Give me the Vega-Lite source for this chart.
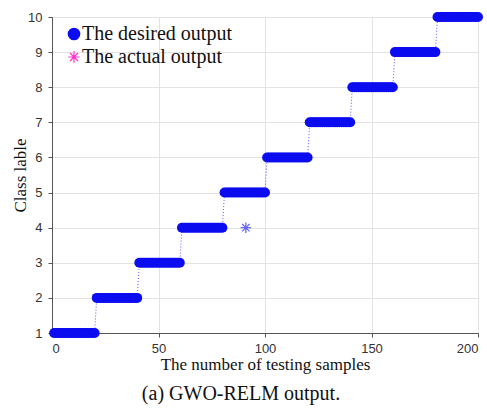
{
  "$schema": "https://vega.github.io/schema/vega-lite/v6.json",
  "autosize": "none",
  "width": 426,
  "height": 316,
  "padding": {"left": 52, "top": 17, "right": 9, "bottom": 82},
  "background": "white",
  "config": {
    "view": {"stroke": "#555555", "strokeWidth": 1},
    "axis": {"labelFont": "Liberation Sans", "labelFontSize": 13, "labelColor": "#333333", "titleFont": "Liberation Serif", "titleFontWeight": "normal", "titleFontSize": 17, "titleColor": "#111111", "gridColor": "#e3e3e3", "domainColor": "#555555", "tickColor": "#555555", "tickSize": 4, "labelOverlap": false}
  },
  "title": {"text": "(a) GWO-RELM output.", "orient": "bottom", "font": "Liberation Serif", "fontSize": 20, "fontWeight": "normal", "color": "#111111", "anchor": "middle", "offset": 12, "dx": -24},
  "data": {"values": [
    {"i":1,"d":1,"a":1},{"i":2,"d":1,"a":1},{"i":3,"d":1,"a":1},{"i":4,"d":1,"a":1},{"i":5,"d":1,"a":1},{"i":6,"d":1,"a":1},{"i":7,"d":1,"a":1},{"i":8,"d":1,"a":1},{"i":9,"d":1,"a":1},{"i":10,"d":1,"a":1},
    {"i":11,"d":1,"a":1},{"i":12,"d":1,"a":1},{"i":13,"d":1,"a":1},{"i":14,"d":1,"a":1},{"i":15,"d":1,"a":1},{"i":16,"d":1,"a":1},{"i":17,"d":1,"a":1},{"i":18,"d":1,"a":1},{"i":19,"d":1,"a":1},{"i":20,"d":1,"a":1},
    {"i":21,"d":2,"a":2},{"i":22,"d":2,"a":2},{"i":23,"d":2,"a":2},{"i":24,"d":2,"a":2},{"i":25,"d":2,"a":2},{"i":26,"d":2,"a":2},{"i":27,"d":2,"a":2},{"i":28,"d":2,"a":2},{"i":29,"d":2,"a":2},{"i":30,"d":2,"a":2},
    {"i":31,"d":2,"a":2},{"i":32,"d":2,"a":2},{"i":33,"d":2,"a":2},{"i":34,"d":2,"a":2},{"i":35,"d":2,"a":2},{"i":36,"d":2,"a":2},{"i":37,"d":2,"a":2},{"i":38,"d":2,"a":2},{"i":39,"d":2,"a":2},{"i":40,"d":2,"a":2},
    {"i":41,"d":3,"a":3},{"i":42,"d":3,"a":3},{"i":43,"d":3,"a":3},{"i":44,"d":3,"a":3},{"i":45,"d":3,"a":3},{"i":46,"d":3,"a":3},{"i":47,"d":3,"a":3},{"i":48,"d":3,"a":3},{"i":49,"d":3,"a":3},{"i":50,"d":3,"a":3},
    {"i":51,"d":3,"a":3},{"i":52,"d":3,"a":3},{"i":53,"d":3,"a":3},{"i":54,"d":3,"a":3},{"i":55,"d":3,"a":3},{"i":56,"d":3,"a":3},{"i":57,"d":3,"a":3},{"i":58,"d":3,"a":3},{"i":59,"d":3,"a":3},{"i":60,"d":3,"a":3},
    {"i":61,"d":4,"a":4},{"i":62,"d":4,"a":4},{"i":63,"d":4,"a":4},{"i":64,"d":4,"a":4},{"i":65,"d":4,"a":4},{"i":66,"d":4,"a":4},{"i":67,"d":4,"a":4},{"i":68,"d":4,"a":4},{"i":69,"d":4,"a":4},{"i":70,"d":4,"a":4},
    {"i":71,"d":4,"a":4},{"i":72,"d":4,"a":4},{"i":73,"d":4,"a":4},{"i":74,"d":4,"a":4},{"i":75,"d":4,"a":4},{"i":76,"d":4,"a":4},{"i":77,"d":4,"a":4},{"i":78,"d":4,"a":4},{"i":79,"d":4,"a":4},{"i":80,"d":4,"a":4},
    {"i":81,"d":5,"a":5},{"i":82,"d":5,"a":5},{"i":83,"d":5,"a":5},{"i":84,"d":5,"a":5},{"i":85,"d":5,"a":5},{"i":86,"d":5,"a":5},{"i":87,"d":5,"a":5},{"i":88,"d":5,"a":5},{"i":89,"d":5,"a":5},{"i":90,"d":5,"a":5},
    {"i":91,"d":5,"a":4},{"i":92,"d":5,"a":5},{"i":93,"d":5,"a":5},{"i":94,"d":5,"a":5},{"i":95,"d":5,"a":5},{"i":96,"d":5,"a":5},{"i":97,"d":5,"a":5},{"i":98,"d":5,"a":5},{"i":99,"d":5,"a":5},{"i":100,"d":5,"a":5},
    {"i":101,"d":6,"a":6},{"i":102,"d":6,"a":6},{"i":103,"d":6,"a":6},{"i":104,"d":6,"a":6},{"i":105,"d":6,"a":6},{"i":106,"d":6,"a":6},{"i":107,"d":6,"a":6},{"i":108,"d":6,"a":6},{"i":109,"d":6,"a":6},{"i":110,"d":6,"a":6},
    {"i":111,"d":6,"a":6},{"i":112,"d":6,"a":6},{"i":113,"d":6,"a":6},{"i":114,"d":6,"a":6},{"i":115,"d":6,"a":6},{"i":116,"d":6,"a":6},{"i":117,"d":6,"a":6},{"i":118,"d":6,"a":6},{"i":119,"d":6,"a":6},{"i":120,"d":6,"a":6},
    {"i":121,"d":7,"a":7},{"i":122,"d":7,"a":7},{"i":123,"d":7,"a":7},{"i":124,"d":7,"a":7},{"i":125,"d":7,"a":7},{"i":126,"d":7,"a":7},{"i":127,"d":7,"a":7},{"i":128,"d":7,"a":7},{"i":129,"d":7,"a":7},{"i":130,"d":7,"a":7},
    {"i":131,"d":7,"a":7},{"i":132,"d":7,"a":7},{"i":133,"d":7,"a":7},{"i":134,"d":7,"a":7},{"i":135,"d":7,"a":7},{"i":136,"d":7,"a":7},{"i":137,"d":7,"a":7},{"i":138,"d":7,"a":7},{"i":139,"d":7,"a":7},{"i":140,"d":7,"a":7},
    {"i":141,"d":8,"a":8},{"i":142,"d":8,"a":8},{"i":143,"d":8,"a":8},{"i":144,"d":8,"a":8},{"i":145,"d":8,"a":8},{"i":146,"d":8,"a":8},{"i":147,"d":8,"a":8},{"i":148,"d":8,"a":8},{"i":149,"d":8,"a":8},{"i":150,"d":8,"a":8},
    {"i":151,"d":8,"a":8},{"i":152,"d":8,"a":8},{"i":153,"d":8,"a":8},{"i":154,"d":8,"a":8},{"i":155,"d":8,"a":8},{"i":156,"d":8,"a":8},{"i":157,"d":8,"a":8},{"i":158,"d":8,"a":8},{"i":159,"d":8,"a":8},{"i":160,"d":8,"a":8},
    {"i":161,"d":9,"a":9},{"i":162,"d":9,"a":9},{"i":163,"d":9,"a":9},{"i":164,"d":9,"a":9},{"i":165,"d":9,"a":9},{"i":166,"d":9,"a":9},{"i":167,"d":9,"a":9},{"i":168,"d":9,"a":9},{"i":169,"d":9,"a":9},{"i":170,"d":9,"a":9},
    {"i":171,"d":9,"a":9},{"i":172,"d":9,"a":9},{"i":173,"d":9,"a":9},{"i":174,"d":9,"a":9},{"i":175,"d":9,"a":9},{"i":176,"d":9,"a":9},{"i":177,"d":9,"a":9},{"i":178,"d":9,"a":9},{"i":179,"d":9,"a":9},{"i":180,"d":9,"a":9},
    {"i":181,"d":10,"a":10},{"i":182,"d":10,"a":10},{"i":183,"d":10,"a":10},{"i":184,"d":10,"a":10},{"i":185,"d":10,"a":10},{"i":186,"d":10,"a":10},{"i":187,"d":10,"a":10},{"i":188,"d":10,"a":10},{"i":189,"d":10,"a":10},{"i":190,"d":10,"a":10},
    {"i":191,"d":10,"a":10},{"i":192,"d":10,"a":10},{"i":193,"d":10,"a":10},{"i":194,"d":10,"a":10},{"i":195,"d":10,"a":10},{"i":196,"d":10,"a":10},{"i":197,"d":10,"a":10},{"i":198,"d":10,"a":10},{"i":199,"d":10,"a":10},{"i":200,"d":10,"a":10}
  ]},
  "encoding": {
    "x": {"field": "i", "type": "quantitative", "scale": {"domain": [0, 200], "nice": false}, "axis": {"values": [0, 50, 100, 150, 200], "title": "The number of testing samples", "titlePadding": 1, "labelPadding": 5}}
  },
  "layer": [
    {
      "transform": [{"filter": "datum.a == datum.d"}],
      "mark": {"type": "point", "filled": false, "strokeWidth": 1, "opacity": 1},
      "encoding": {
        "y": {"field": "a", "type": "quantitative", "scale": {"domain": [1, 10], "nice": false, "zero": false}, "axis": {"values": [1,2,3,4,5,6,7,8,9,10], "title": "Class lable", "titlePadding": -2, "labelPadding": 6, "labelOverlap": false}},
        "shape": {
          "datum": "The actual output", "type": "nominal",
          "scale": {"domain": ["The desired output", "The actual output"], "range": ["circle", "M0,-1L0,1M-1,0L1,0M-0.7,-0.7L0.7,0.7M-0.7,0.7L0.7,-0.7"]},
          "legend": {
            "title": null, "orient": "none", "legendX": 12, "legendY": 7, "padding": 0,
            "labelFont": "Liberation Serif", "labelFontSize": 20, "labelColor": "#111111", "labelOffset": -2,
            "symbolSize": 130, "rowPadding": 3, "symbolStrokeWidth": 1.2
          }
        },
        "color": {
          "datum": "The actual output", "type": "nominal",
          "scale": {"domain": ["The desired output", "The actual output"], "range": ["#0c0cf0", "#ff33cc"]},
          "legend": {
            "title": null, "orient": "none", "legendX": 12, "legendY": 7, "padding": 0,
            "labelFont": "Liberation Serif", "labelFontSize": 20, "labelColor": "#111111", "labelOffset": -2,
            "symbolSize": 130, "rowPadding": 3, "symbolStrokeWidth": 1.2
          }
        },
        "size": {"value": 60}
      }
    },
    {
      "mark": {"type": "line", "color": "#3030ff", "strokeWidth": 1, "strokeDash": [1, 2], "opacity": 0.8},
      "encoding": {
        "y": {"field": "d", "type": "quantitative", "scale": {"domain": [1, 10], "nice": false, "zero": false}, "axis": {"values": [1,2,3,4,5,6,7,8,9,10], "title": "Class lable", "titlePadding": -2, "labelPadding": 6, "labelOverlap": false}}
      }
    },
    {
      "mark": {"type": "point", "filled": true, "opacity": 1, "strokeWidth": 0.8},
      "encoding": {
        "y": {"field": "d", "type": "quantitative", "scale": {"domain": [1, 10], "nice": false, "zero": false}, "axis": {"values": [1,2,3,4,5,6,7,8,9,10], "title": "Class lable", "titlePadding": -2, "labelPadding": 6, "labelOverlap": false}},
        "color": {
          "datum": "The desired output", "type": "nominal",
          "scale": {"domain": ["The desired output", "The actual output"], "range": ["#0c0cf0", "#ff33cc"]},
          "legend": {
            "title": null, "orient": "none", "legendX": 12, "legendY": 7, "padding": 0,
            "labelFont": "Liberation Serif", "labelFontSize": 20, "labelColor": "#111111", "labelOffset": -2,
            "symbolSize": 130, "rowPadding": 3, "symbolStrokeWidth": 1.2
          }
        },
        "shape": {
          "datum": "The desired output", "type": "nominal",
          "scale": {"domain": ["The desired output", "The actual output"], "range": ["circle", "M0,-1L0,1M-1,0L1,0M-0.7,-0.7L0.7,0.7M-0.7,0.7L0.7,-0.7"]},
          "legend": {
            "title": null, "orient": "none", "legendX": 12, "legendY": 7, "padding": 0,
            "labelFont": "Liberation Serif", "labelFontSize": 20, "labelColor": "#111111", "labelOffset": -2,
            "symbolSize": 130, "rowPadding": 3, "symbolStrokeWidth": 1.2
          }
        },
        "size": {"value": 100}
      }
    },
    {
      "transform": [{"filter": "datum.a != datum.d"}],
      "mark": {"type": "point", "filled": false, "strokeWidth": 1.3, "color": "#2b2bf0", "shape": "M0,-1L0,1M-1,0L1,0M-0.7,-0.7L0.7,0.7M-0.7,0.7L0.7,-0.7", "size": 110},
      "encoding": {
        "y": {"field": "a", "type": "quantitative", "scale": {"domain": [1, 10], "nice": false, "zero": false}, "axis": {"values": [1,2,3,4,5,6,7,8,9,10], "title": "Class lable", "titlePadding": -2, "labelPadding": 6, "labelOverlap": false}}
      }
    }
  ]
}
